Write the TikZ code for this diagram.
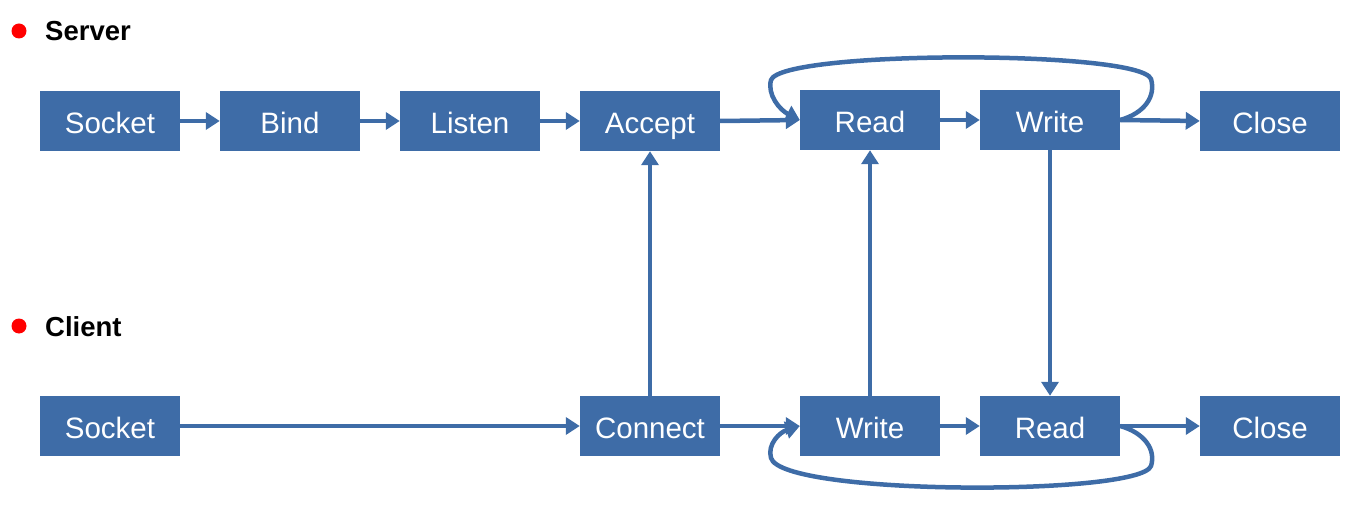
\documentclass[tikz,border=0pt]{standalone}
\usepackage{fontspec}
\setmainfont{Liberation Sans}
\usetikzlibrary{arrows.meta}
\definecolor{boxblue}{RGB}{62,108,167}
\begin{document}
\begin{tikzpicture}[x=1pt,y=-1pt,
  blk/.style={fill=boxblue,draw=none,minimum width=140pt,minimum height=60pt,inner sep=0pt,
    text=white,font=\fontsize{29.5}{32}\selectfont,text height=25pt,text depth=0pt},
  conn/.style={draw=boxblue,line width=4.5pt,-{Triangle[length=14pt,width=17pt]}},
  hdr/.style={anchor=west,font=\fontsize{27.5}{30}\selectfont\bfseries,inner sep=0pt,
    text height=19.7pt,text depth=0pt},
  dot/.style={fill=red,draw=none,circle,minimum size=15pt,inner sep=0pt}]
\useasboundingbox (0,0) rectangle (1357,513);
\node[dot] (d1) at (19,31) {};
\node[hdr] (server) at (45,31) {Server};
\node[dot] (d2) at (19,326) {};
\node[hdr] (client) at (45,327) {Client};
% server row
\node[blk] (ssock) at (110,121) {Socket};
\node[blk] (sbind) at (290,121) {Bind};
\node[blk] (slist) at (470,121) {Listen};
\node[blk] (sacc) at (650,121) {Accept};
\node[blk] (sread) at (870,120) {Read};
\node[blk] (swrite) at (1050,120) {Write};
\node[blk] (sclose) at (1270,121) {Close};
% client row
\node[blk] (csock) at (110,426) {Socket};
\node[blk] (cconn) at (650,426) {Connect};
\node[blk] (cwrite) at (870,426) {Write};
\node[blk] (cread) at (1050,426) {Read};
\node[blk] (cclose) at (1270,426) {Close};
% server arrows
\draw[conn] (ssock) -- (sbind);
\draw[conn] (sbind) -- (slist);
\draw[conn] (slist) -- (sacc);
\draw[conn] (sacc.east) -- (sread.west);
\draw[conn] (sread) -- (swrite);
\draw[conn] (swrite.east) -- (sclose.west);
% client arrows
\draw[conn] (csock) -- (cconn);
\draw[conn] (cconn) -- (cwrite);
\draw[conn] (cwrite) -- (cread);
\draw[conn] (cread) -- (cclose);
% vertical
\draw[conn] (cconn.north) -- (sacc.south);
\draw[conn] (cwrite.north) -- (sread.south);
\draw[conn] (swrite.south) -- (cread.north);
% loops
\draw[conn] (swrite.east) .. controls (1145,113) and (1156,96) .. (1151,79)
  .. controls (1140,50) and (782,50) .. (771,80)
  .. controls (767,95) and (780,110) .. (sread.west);
\draw[conn] (cread.east) .. controls (1145,433) and (1156,450) .. (1151,466)
  .. controls (1140,496) and (782,496) .. (771,458)
  .. controls (767,444) and (780,432) .. (cwrite.west);
\end{tikzpicture}
\end{document}
